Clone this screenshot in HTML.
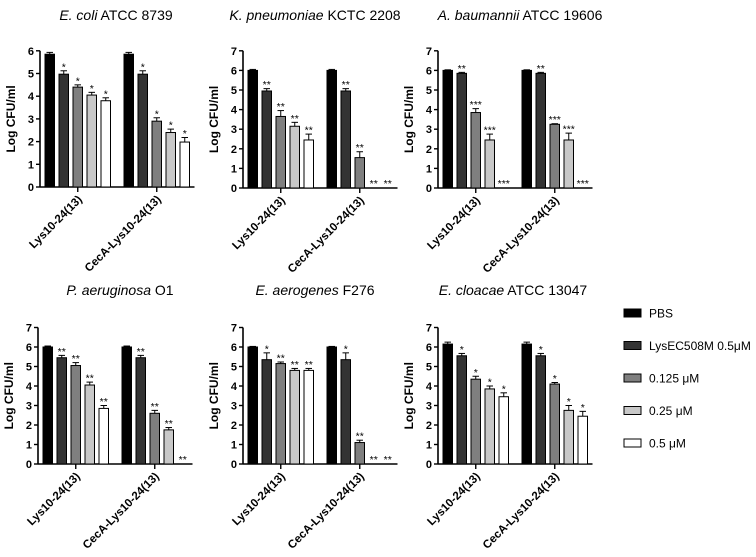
<!DOCTYPE html>
<html><head><meta charset="utf-8"><style>
body{margin:0;background:#fff;}
svg{display:block;font-family:"Liberation Sans",Arial,sans-serif;}
</style></head><body>
<svg id="chart" width="756" height="557" viewBox="0 0 756 557"></svg>
<script>
const groups = ["Lys10-24(13)", "CecA-Lys10-24(13)"];
const seriesNames = ["PBS", "LysEC508M 0.5μM", "0.125 μM", "0.25 μM", "0.5 μM"];
const fills = ["#000000", "#333333", "#7f7f7f", "#c8c8c8", "#ffffff"];
const titlesItalic = ["E. coli", "K. pneumoniae", "A. baumannii", "P. aeruginosa", "E. aerogenes", "E. cloacae"];
const titlesRest = [" ATCC 8739", " KCTC 2208", " ATCC 19606", " O1", " F276", " ATCC 13047"];
const yMaxes = [6, 7, 7, 7, 7, 7];
const values = [
  [[5.85,4.97,4.4,4.05,3.8],[5.85,4.97,2.9,2.4,1.98]],
  [[6.0,4.95,3.65,3.15,2.45],[6.0,4.95,1.55,0,0]],
  [[6.0,5.85,3.85,2.45,0],[6.0,5.85,3.25,2.45,0]],
  [[6.0,5.45,5.05,4.05,2.85],[6.0,5.45,2.6,1.75,0]],
  [[6.0,5.35,5.15,4.8,4.8],[6.0,5.35,1.1,0,0]],
  [[6.15,5.55,4.35,3.85,3.45],[6.15,5.55,4.1,2.75,2.45]]
];
const errors = [
  [[0.08,0.15,0.1,0.12,0.13],[0.08,0.15,0.15,0.15,0.2]],
  [[0.05,0.12,0.3,0.2,0.3],[0.05,0.12,0.3,0,0]],
  [[0.03,0.05,0.2,0.3,0],[0.03,0.05,0.03,0.35,0]],
  [[0.05,0.12,0.15,0.15,0.15],[0.05,0.12,0.15,0.12,0]],
  [[0.03,0.35,0.08,0.1,0.1],[0.03,0.35,0.12,0,0]],
  [[0.1,0.12,0.15,0.15,0.2],[0.1,0.12,0.08,0.25,0.25]]
];
const stars = [
  [["","*","*","*","*"],["","*","*","*","*"]],
  [["","**","**","**","**"],["","**","**","**","**"]],
  [["","**","***","***","***"],["","**","***","***","***"]],
  [["","**","**","**","**"],["","**","**","**","**"]],
  [["","*","**","**","**"],["","*","**","**","**"]],
  [["","*","*","*","*"],["","*","*","*","*"]]
];
const layout = [
  {ax:40, y0:187, unit:22.7, tx:116, ty:20},
  {ax:243, y0:188, unit:19.6, tx:315, ty:20},
  {ax:438, y0:188, unit:19.6, tx:520, ty:20},
  {ax:38, y0:464, unit:19.5, tx:120, ty:295},
  {ax:243, y0:464, unit:19.5, tx:315, ty:295},
  {ax:438, y0:464, unit:19.5, tx:513, ty:295}
];
const NS = "http://www.w3.org/2000/svg";
const svg = document.getElementById("chart");
function mk(tag, attrs, parent){const e=document.createElementNS(NS,tag);for(const k in attrs)e.setAttribute(k,attrs[k]);(parent||svg).appendChild(e);return e;}
const BW=9.5, STEP=14, GSTEP=79;
values.forEach((pv,p)=>{
  const L=layout[p];
  const g=mk("g",{});
  
  
  const y=v=>L.y0-v*L.unit;
  const t=mk("text",{x:L.tx,y:L.ty,"text-anchor":"middle","font-size":"14"},g);
  
  
  const ti=mk("tspan",{"font-style":"italic"},t);ti.textContent=titlesItalic[p];
  const tr=mk("tspan",{},t);tr.textContent=titlesRest[p];
  const yl=mk("text",{x:0,y:0,transform:`translate(${L.ax-25},${y(yMaxes[p]/2)}) rotate(-90)`,"text-anchor":"middle","font-size":"12","font-weight":"bold"},g);
  yl.textContent="Log CFU/ml";
  
  
  const axEnd=L.ax+5+GSTEP+4*STEP+BW+5;
  mk("line",{x1:L.ax,y1:y(0),x2:L.ax,y2:y(yMaxes[p]),stroke:"#000","stroke-width":"1.6"},g);
  mk("line",{x1:L.ax,y1:y(0),x2:axEnd,y2:y(0),stroke:"#000","stroke-width":"1.6"},g);
  for(let k=0;k<=yMaxes[p];k++){
    mk("line",{x1:L.ax-4,y1:y(k),x2:L.ax,y2:y(k),stroke:"#000","stroke-width":"1.4"},g);
    const tl=mk("text",{x:L.ax-6,y:y(k)+4,"text-anchor":"end","font-size":"11","font-weight":"bold"},g);
    tl.textContent=k;
    
    
  }
  pv.forEach((gv,gi)=>{
    const gx=L.ax+5+gi*GSTEP;
    const cx=gx+2*STEP+BW/2;
    mk("line",{x1:cx,y1:y(0),x2:cx,y2:y(0)+5,stroke:"#000","stroke-width":"1.4"},g);
    const xl=mk("text",{x:0,y:0,transform:`translate(${cx+5},${y(0)+13}) rotate(-45)`,"text-anchor":"end","font-size":"11.5","font-weight":"bold"},g);
    xl.textContent=groups[gi];
    
    
    gv.forEach((v,si)=>{
      const bx=gx+si*STEP;
      const e=errors[p][gi][si];
      if(v>0){
        mk("line",{x1:bx+BW/2,y1:y(v),x2:bx+BW/2,y2:y(v+e),stroke:"#000","stroke-width":"1"},g);
        mk("line",{x1:bx+1.5,y1:y(v+e),x2:bx+BW-1.5,y2:y(v+e),stroke:"#000","stroke-width":"1"},g);
        const r=mk("rect",{x:bx,y:y(v),width:BW,height:v*L.unit,fill:fills[si],stroke:"#000","stroke-width":"1"},g);
        
        
      }
      const s=stars[p][gi][si];
      if(s){
        const st=mk("text",{x:bx+BW/2,y:(v>0?y(v+e)-0.5:y(0)-1),"text-anchor":"middle","font-size":"10.5"},g);
        st.textContent=s;
        
        
      }
    });
  });
});
const lg=mk("g",{});


seriesNames.forEach((n,i)=>{
  const ly=313+i*32.5;
  const r=mk("rect",{x:624,y:ly-4,width:17,height:8,fill:fills[i],stroke:"#000","stroke-width":"1"},lg);
  
  
  const t=mk("text",{x:649,y:ly+4.5,"font-size":"12"},lg);
  t.textContent=n;
  
  
});
</script>
</body></html>
